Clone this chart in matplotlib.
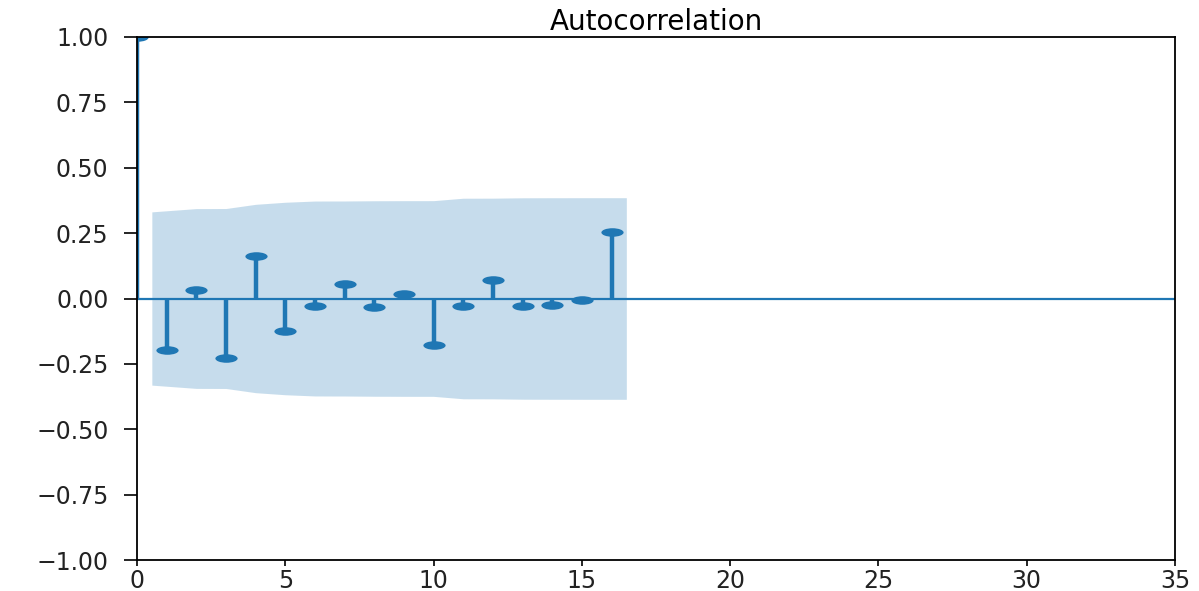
import numpy as np
import matplotlib
matplotlib.use("Agg")
import matplotlib.pyplot as plt
from matplotlib.path import Path
from matplotlib.transforms import Affine2D

# Autocorrelation values (lag 0..16)
lags = list(range(0, 17))
acf_vals = [1.0, -0.196, 0.031, -0.227, 0.162, -0.125, -0.027, 0.054, -0.034,
            0.017, -0.179, -0.027, 0.071, -0.027, -0.023, -0.004, 0.255]
n_obs = 35          # series length implied by the confidence band
alpha_z = 1.96
x_limits = [0, 35]
y_limits = [-1.0, 1.0]
x_ticks = [0, 5, 10, 15, 20, 25, 30, 35]
y_ticks = [-1.0, -0.75, -0.5, -0.25, 0.0, 0.25, 0.5, 0.75, 1.0]
title = "Autocorrelation"

acf = np.array(acf_vals)
lag_arr = np.array(lags, dtype=float)

# Bartlett band (as statsmodels plot_acf does)
var = np.ones(len(acf)) / n_obs
var[0] = 0
var[1] = 1.0 / n_obs
var[2:] = (1 + 2 * np.cumsum(acf[1:-1] ** 2)) / n_obs
band = alpha_z * np.sqrt(var)
band_lags = lag_arr[1:].copy()
band_lags[0] -= 0.5
band_lags[-1] += 0.5

fig = plt.figure(figsize=(11.99, 5.91), dpi=100)
ax = fig.add_axes([137 / 1199, 1 - 560 / 591, (1175 - 137) / 1199, (560 - 37) / 591])

c = "#1f77b4"
ax.vlines(lag_arr, 0, acf, colors=c, linewidth=3.2)
ax.axhline(0, color=c, linewidth=1.6)
ell = Path.unit_circle().transformed(Affine2D().scale(2.6, 1.0))
ax.plot(lag_arr, acf, linestyle="none", marker=ell, markersize=16, color=c,
        markeredgewidth=0)
ax.fill_between(band_lags, -band[1:], band[1:], color=c, alpha=0.25, linewidth=0)

ax.set_xlim(x_limits)
ax.set_ylim(y_limits)
ax.set_xticks(x_ticks)
ax.set_yticks(y_ticks)
ax.set_xticklabels([str(t) for t in x_ticks])
ax.set_yticklabels([f"{t:.2f}".replace("-", "\u2212") for t in y_ticks])
ax.tick_params(axis="y", length=9.5, width=1.2, pad=11, labelsize=17, labelcolor="#222222")
ax.tick_params(axis="x", length=4.5, width=1.2, pad=2, labelsize=17, labelcolor="#222222")
for s in ax.spines.values():
    s.set_linewidth(1.3)
ax.set_title(title, fontsize=20, pad=5)

fig.savefig("out.png", dpi=100)
